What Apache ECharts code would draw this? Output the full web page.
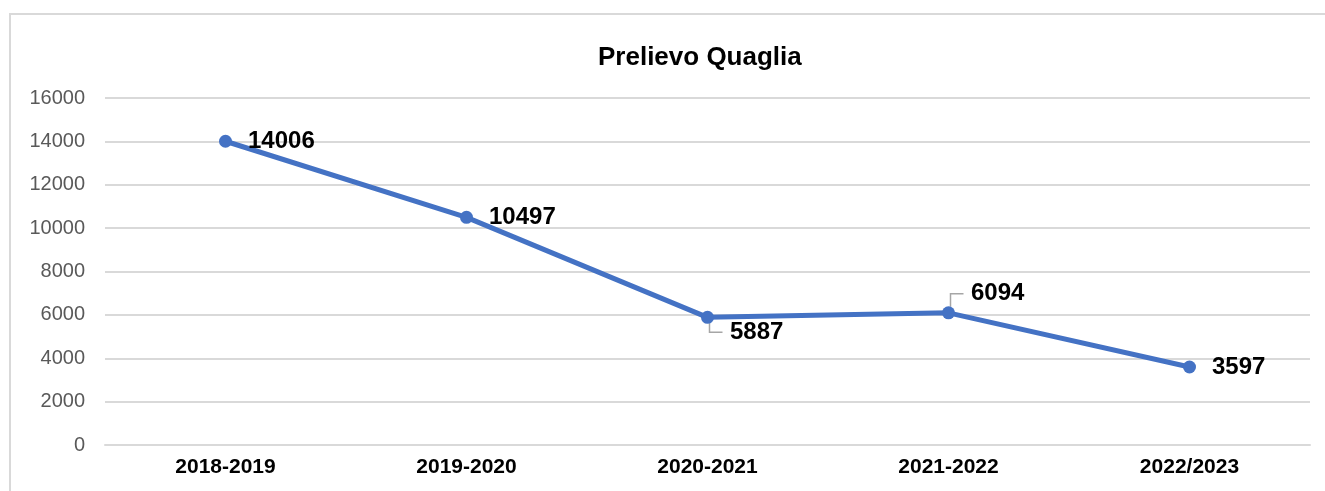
<!DOCTYPE html>
<html>
<head>
<meta charset="utf-8">
<script src="https://cdn.jsdelivr.net/npm/echarts@6/dist/echarts.min.js"></script>
<style>
  html, body { margin: 0; padding: 0; background: #fff; }
  #frame { position: absolute; left: 9px; top: 13px; width: 1330px; height: 490px;
           border-top: 2px solid #d9d9d9; border-left: 2px solid #d9d9d9; }
  #main { position: absolute; left: 0; top: 0; width: 1325px; height: 491px; }
</style>
</head>
<body>
<div id="frame"></div>
<div id="main"></div>
<script>
// Prelievo Quaglia per stagione
var stagioni = ['2018-2019', '2019-2020', '2020-2021', '2021-2022', '2022/2023'];
var prelievo = [14006, 10497, 5887, 6094, 3597];
var yTicks = { min: 0, max: 16000, interval: 2000 };

var chart = echarts.init(document.getElementById('main'));

// spostamento verticale delle etichette (come nel grafico originale)
var labelShift = [0, 0, 15, -19, 0];

var option = {
	backgroundColor: 'transparent',
	textStyle: { fontFamily: 'Arial, "Liberation Sans", sans-serif' },
	title: {
		text: 'Prelievo Quaglia',
		left: 593,
		top: 40,
		textStyle: { color: '#000', fontSize: 26, fontWeight: 'bold' }
	},
	grid: { left: 105, right: 15, top: 98, bottom: 46 },
	xAxis: {
		type: 'category',
		data: stagioni,
		boundaryGap: true,
		axisLine: { show: true, lineStyle: { color: '#d9d9d9', width: 2 } },
		axisTick: { show: false },
		axisLabel: { color: '#000', fontSize: 21, fontWeight: 'bold', margin: 12 }
	},
	yAxis: {
		type: 'value',
		min: yTicks.min,
		max: yTicks.max,
		interval: yTicks.interval,
		axisLine: { show: false },
		axisTick: { show: false },
		axisLabel: { color: '#595959', fontSize: 20, margin: 20,
			formatter: function (v) { return String(v); } },
		splitLine: { lineStyle: { color: '#d9d9d9', width: 2 } }
	},
	series: [{
		// linee guida delle etichette spostate
		type: 'custom',
		z: 1,
		silent: true,
		data: prelievo.map(function (v, i) { return [i, v]; }),
		renderItem: function (params, api) {
			var s = labelShift[params.dataIndex];
			if (!s) return null;
			var p = api.coord([api.value(0), api.value(1)]);
			var x = p[0] + 2;
			var y0 = p[1] + (s > 0 ? 6 : -6);
			var y1 = p[1] + s;
			return {
				type: 'polyline',
				shape: { points: [[x, y0], [x, y1], [x + 13, y1]] },
				style: { stroke: '#a6a6a6', lineWidth: 1.5, fill: null }
			};
		}
	}, {
		name: 'Prelievo',
		type: 'line',
		z: 3,
		data: prelievo,
		symbol: 'circle',
		symbolSize: 13,
		lineStyle: { color: '#4472c4', width: 5 },
		itemStyle: { color: '#4472c4' },
		label: {
			show: true,
			position: 'right',
			distance: 16,
			color: '#000',
			fontSize: 24,
			fontWeight: 'bold'
		},
		labelLayout: function (params) {
			return { dy: labelShift[params.dataIndex] };
		}
	}]
};
chart.setOption(option);
</script>
</body>
</html>
